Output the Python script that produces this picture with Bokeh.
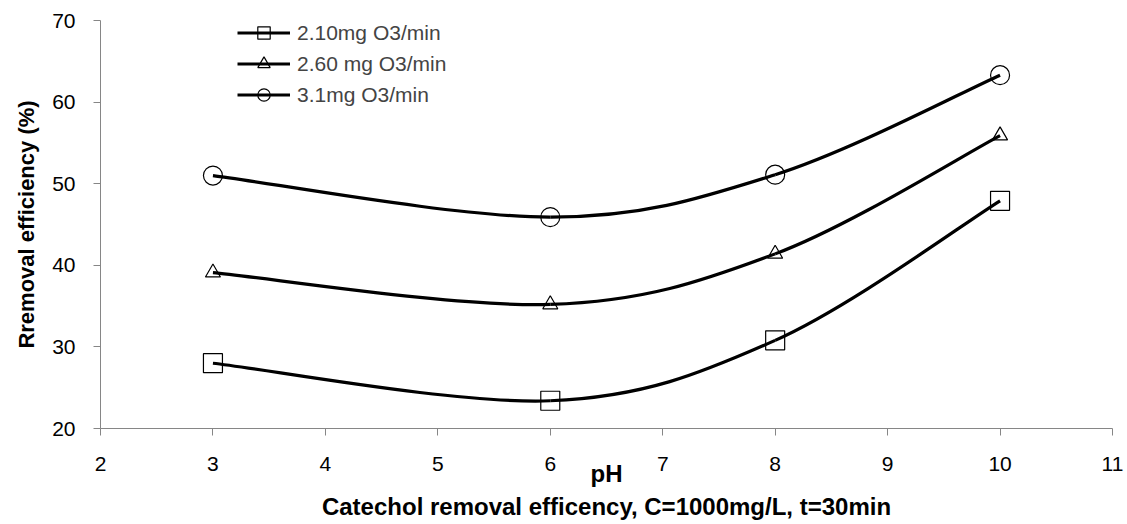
from bokeh.plotting import figure
from bokeh.models import Legend, LegendItem, FixedTicker, Range1d
from bokeh.embed import file_html
from bokeh.resources import INLINE

# ---- data ----
ph = [3, 6, 8, 10]
series_names = ["2.10mg O3/min", "2.60 mg O3/min", "3.1mg O3/min"]
eff_210 = [28.0, 23.4, 30.8, 47.9]
eff_260 = [39.1, 35.2, 41.4, 55.9]
eff_310 = [51.0, 45.9, 51.1, 63.3]
x_ticks = [2, 3, 4, 5, 6, 7, 8, 9, 10, 11]
y_ticks = [20, 30, 40, 50, 60, 70]
x_title = "pH\nCatechol removal efficency, C=1000mg/L, t=30min"
y_title = "Rremoval efficiency (%)"

FONT = "Liberation Sans"


def smooth_segments(xs, ys):
    """Excel-like smoothed line: Catmull-Rom segments as cubic Beziers."""
    n = len(xs)
    d = dict(x0=[], y0=[], x1=[], y1=[], cx0=[], cy0=[], cx1=[], cy1=[])
    for i in range(n - 1):
        a = max(i - 1, 0)
        b = min(i + 2, n - 1)
        d["x0"].append(xs[i]); d["y0"].append(ys[i])
        d["x1"].append(xs[i + 1]); d["y1"].append(ys[i + 1])
        d["cx0"].append(xs[i] + (xs[i + 1] - xs[a]) / 6.0)
        d["cy0"].append(ys[i] + (ys[i + 1] - ys[a]) / 6.0)
        d["cx1"].append(xs[i + 1] - (xs[b] - xs[i]) / 6.0)
        d["cy1"].append(ys[i + 1] - (ys[b] - ys[i]) / 6.0)
    return d


p = figure(width=1127, height=524, output_backend="svg", toolbar_location=None,
           x_range=Range1d(2, 11), y_range=Range1d(20, 70),
           min_border_left=100, min_border_right=15, min_border_top=20, min_border_bottom=96)
p.outline_line_color = None
p.xgrid.visible = False
p.ygrid.visible = False
p.background_fill_color = "white"
p.border_fill_color = "white"

for ax in (p.xaxis[0], p.yaxis[0]):
    ax.axis_line_color = "#868686"
    ax.major_tick_line_color = "#868686"
    ax.minor_tick_line_color = None
    ax.major_tick_in = 0
    ax.major_tick_out = 7
    ax.major_label_text_font = FONT
    ax.major_label_text_font_size = "21px"
    ax.major_label_text_color = "black"

p.xaxis.ticker = FixedTicker(ticks=x_ticks)
p.yaxis.ticker = FixedTicker(ticks=y_ticks)
p.xaxis.major_label_standoff = 21
p.yaxis.major_label_standoff = 18

p.xaxis.axis_label = x_title
p.xaxis.axis_label_text_font = FONT
p.xaxis.axis_label_text_font_style = "bold"
p.xaxis.axis_label_text_font_size = "24px"
p.xaxis.axis_label_text_color = "black"
p.xaxis.axis_label_text_line_height = 1.25
p.xaxis.axis_label_standoff = -14

p.yaxis.axis_label = y_title
p.yaxis.axis_label_text_font = FONT
p.yaxis.axis_label_text_font_style = "bold"
p.yaxis.axis_label_text_font_size = "22px"
p.yaxis.axis_label_text_color = "black"
p.yaxis.axis_label_standoff = 10

markers = ["square", "triangle", "circle"]
sizes = [19, 15, 19]
items = []
for name, ys, mk, sz in zip(series_names, [eff_210, eff_260, eff_310], markers, sizes):
    seg = smooth_segments(ph, ys)
    r_line = p.bezier(x0="x0", y0="y0", x1="x1", y1="y1", cx0="cx0", cy0="cy0",
                      cx1="cx1", cy1="cy1", source=seg, line_color="black", line_width=3.2)
    r_mk = p.scatter(ph, ys, marker=mk, size=sz, fill_alpha=0, line_color="black", line_width=1.2)
    items.append(LegendItem(label=name, renderers=[r_line, r_mk]))

legend = Legend(items=items, location=(137, 318), padding=0, margin=0, spacing=0,
                glyph_width=53, glyph_height=31, label_height=31, label_standoff=7,
                label_text_font=FONT, label_text_font_size="21px",
                border_line_color=None, background_fill_alpha=0)
p.add_layout(legend, "center")

open("out.html", "w").write(file_html(p, INLINE))
